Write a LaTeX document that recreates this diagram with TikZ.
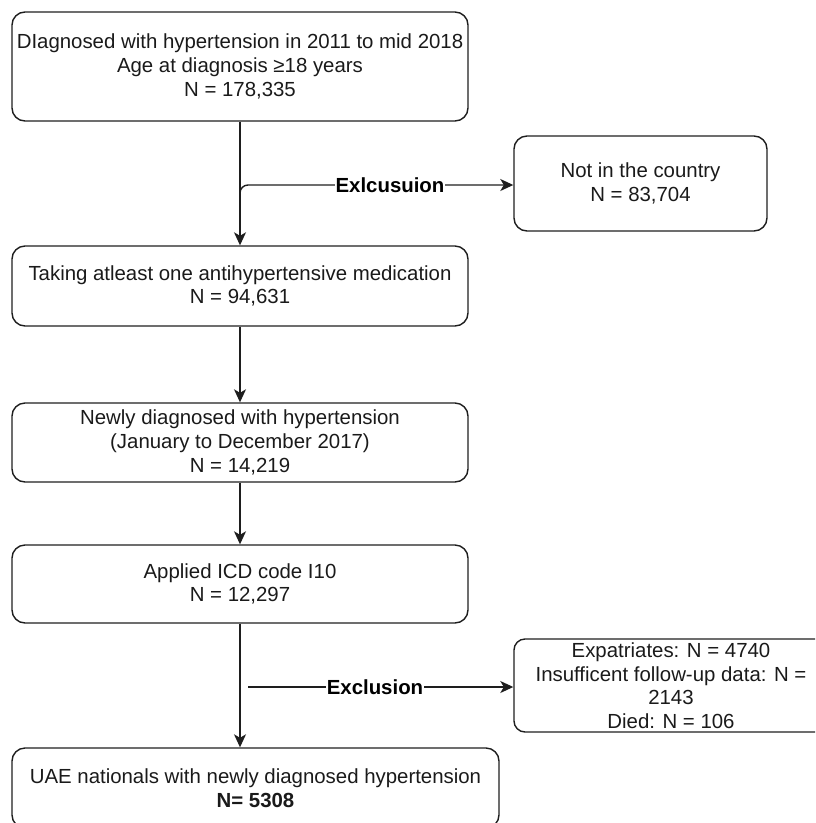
\documentclass[tikz,border=0pt]{standalone}
\usepackage{fontspec}
\setmainfont{Liberation Sans}
\usetikzlibrary{arrows.meta}
\definecolor{linec}{HTML}{1E1E1E}
\definecolor{textc}{HTML}{1A1A1A}
\begin{document}
\begin{tikzpicture}[x=1pt,y=-1pt,
  box/.style={draw=linec, line width=1.4pt, rounded corners=13pt, align=center,
    font=\fontsize{20.4}{23.6}\selectfont, text=textc, inner sep=0pt},
  arr/.style={draw=linec, line width=1.4pt, -{Stealth[length=13pt,width=12pt,inset=3.5pt]}},
  lab/.style={fill=white, inner sep=1pt, font=\bfseries\fontsize{20.4}{23.6}\selectfont, text=black}
]
\useasboundingbox (0,0) rectangle (815,823);
\clip (0,0) rectangle (815,823);

\node[box, minimum width=456pt, minimum height=109pt] (n1) at (240,66.5)
  {DIagnosed with hypertension in 2011 to mid 2018\\Age at diagnosis ≥18 years\\N = 178,335};
\node[box, minimum width=456pt, minimum height=80pt] (n2) at (240,286)
  {Taking atleast one antihypertensive medication\\N = 94,631};
\node[box, minimum width=456pt, minimum height=79pt] (n3) at (240,442.5)
  {Newly diagnosed with hypertension\\(January to December 2017)\\N = 14,219};
\node[box, minimum width=456pt, minimum height=78pt] (n4) at (240,584)
  {Applied ICD code I10\\N = 12,297};
\node[box, minimum width=487pt, minimum height=80pt] (n5) at (255.5,788)
  {UAE nationals with newly diagnosed hypertension\\\textbf{N= 5308}};

\node[box, minimum width=253pt, minimum height=95pt] (s1) at (640.5,183.5)
  {Not in the country\\N = 83,704};
\node[box, minimum width=314pt, minimum height=93pt, rounded corners=11pt] (s2) at (671,685.5)
  {Expatriates: N = 4740\\Insufficent follow-up data: N =\\2143\\Died: N = 106};

% main flow
\draw[arr] (n1.south) -- (n2.north);
\draw[arr] (n2.south) -- (n3.north);
\draw[arr] (n3.south) -- (n4.north);
\draw[arr] (n4.south) -- (n4.south |- n5.north);

% first exclusion
\coordinate (b1) at (240,201);
\coordinate (c1) at (240,185);
\draw[arr, rounded corners=8pt] (b1) -- (c1) -- (c1 -| s1.west);
\node[lab] (l1) at (390,185) {Exlcusuion};

% second exclusion
\coordinate (b2) at (248,687);
\draw[arr] (b2) -- (b2 -| s2.west);
\node[lab] (l2) at (375,687) {Exclusion};
\end{tikzpicture}
\end{document}
